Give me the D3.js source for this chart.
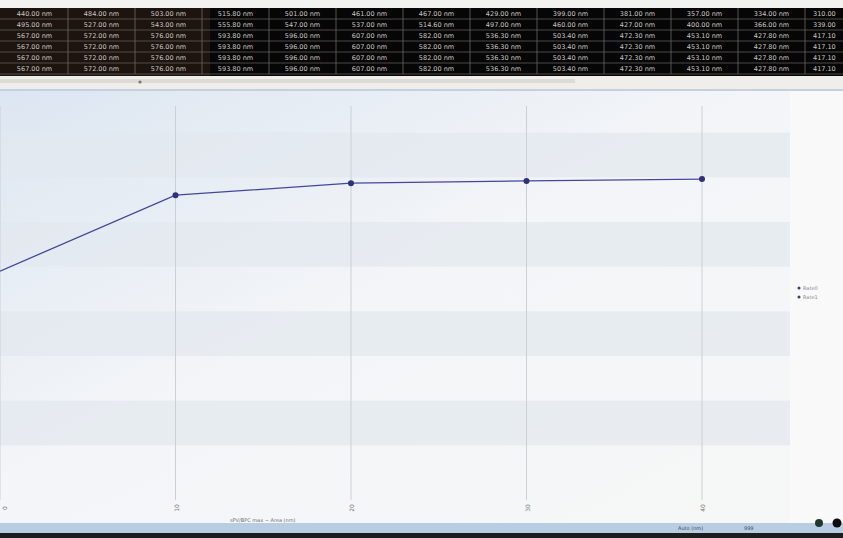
<!DOCTYPE html>
<html>
<head>
<meta charset="utf-8">
<script src="https://cdn.jsdelivr.net/npm/d3@7"></script>
<style>
  body { margin: 0; background: #222; }
  svg { display: block; font-family: "DejaVu Sans", sans-serif; -webkit-font-smoothing: antialiased; }
</style>
</head>
<body>
<script>
// Table rows at the top of the screen (nm readings)
const tableRow1 = ["440.00", "484.00", "503.00", "515.80", "501.00", "461.00", "467.00", "429.00", "399.00", "381.00", "357.00", "334.00", "310.00"];
const tableRow2 = ["495.00", "527.00", "543.00", "555.80", "547.00", "537.00", "514.60", "497.00", "460.00", "427.00", "400.00", "366.00", "339.00"];
const tableRow3 = ["567.00", "572.00", "576.00", "593.80", "596.00", "607.00", "582.00", "536.30", "503.40", "472.30", "453.10", "427.80", "417.10"];
const tableRow4 = ["567.00", "572.00", "576.00", "593.80", "596.00", "607.00", "582.00", "536.30", "503.40", "472.30", "453.10", "427.80", "417.10"];
const tableRow5 = ["567.00", "572.00", "576.00", "593.80", "596.00", "607.00", "582.00", "536.30", "503.40", "472.30", "453.10", "427.80", "417.10"];
const tableRow6 = ["567.00", "572.00", "576.00", "593.80", "596.00", "607.00", "582.00", "536.30", "503.40", "472.30", "453.10", "427.80", "417.10"];

// Chart series
const xSteps = [0, 1, 2, 3, 4];
const yValues = [490, 660, 687, 692, 696];
const xTickLabels = ["0", "10", "20", "30", "40"];
const legendLabels = ["Rate0", "Rate1"];
const axisTitle = "sPV/BPC max  ~ Area (nm)";

const W = 843, H = 538;
const svg = d3.select("body").append("svg")
    .attr("width", W)
    .attr("height", H);

const defs = svg.append("defs");
const grad = defs.append("linearGradient")
    .attr("id", "bg").attr("x1", 0).attr("y1", 0).attr("x2", 1).attr("y2", 1);
grad.append("stop").attr("offset", "0%").attr("stop-color", "#dce6f1");
grad.append("stop").attr("offset", "45%").attr("stop-color", "#f3f5f8");
grad.append("stop").attr("offset", "100%").attr("stop-color", "#f6f7f6");

// ---- top data table ----
const rows = [tableRow1, tableRow2, tableRow3, tableRow4, tableRow5, tableRow6];
const tableTop = 8, rowH = 11, colW = 67, colStart = 1;

svg.append("rect").attr("x", 0).attr("y", 0).attr("width", W).attr("height", tableTop)
    .attr("fill", "#f2f2f0");
svg.append("rect").attr("x", 0).attr("y", tableTop).attr("width", W).attr("height", rowH * rows.length + 2)
    .attr("fill", "#070606");
svg.append("rect").attr("x", 0).attr("y", tableTop).attr("width", 210).attr("height", rowH * rows.length + 2)
    .attr("fill", "#241812").attr("opacity", 0.8);

const table = svg.append("g");
rows.forEach((row, r) => {
    table.append("line")
        .attr("x1", 0).attr("x2", W)
        .attr("y1", tableTop + (r + 1) * rowH).attr("y2", tableTop + (r + 1) * rowH)
        .attr("stroke", "#5c5a58").attr("stroke-width", 0.8);
    row.forEach((v, c) => {
        // the last column runs off the screen edge, so only its number fits
        const last = c === row.length - 1;
        table.append("text")
            .attr("x", last ? colStart + c * colW + 8 : colStart + c * colW + colW / 2)
            .attr("y", tableTop + r * rowH + 8)
            .attr("text-anchor", last ? "start" : "middle")
            .attr("font-size", 6.5)
            .attr("fill", "#c9c7c4")
            .text(last ? v : v + " nm");
    });
});
d3.range(1, 13).forEach((c) => {
    table.append("line")
        .attr("x1", colStart + c * colW).attr("x2", colStart + c * colW)
        .attr("y1", tableTop).attr("y2", tableTop + rowH * rows.length)
        .attr("stroke", "#6a6866").attr("stroke-width", 0.8);
});

// strip under the table with scrollbar
svg.append("rect").attr("x", 0).attr("y", 76).attr("width", W).attr("height", 14).attr("fill", "#efeeea");
svg.append("rect").attr("x", 0).attr("y", 79).attr("width", 575).attr("height", 4).attr("fill", "#dcdbd6");
svg.append("circle").attr("cx", 140).attr("cy", 82).attr("r", 1.6).attr("fill", "#77777a");

// ---- chart ----
const plot = { left: 0, right: 790, top: 90, bottom: 492 };

svg.append("rect").attr("x", 0).attr("y", plot.top).attr("width", W).attr("height", 434)
    .attr("fill", "url(#bg)");
svg.append("rect").attr("x", plot.right).attr("y", plot.top).attr("width", W - plot.right).attr("height", 434)
    .attr("fill", "#f8f9f8");
svg.append("line").attr("x1", 0).attr("x2", W).attr("y1", plot.top).attr("y2", plot.top)
    .attr("stroke", "#c4d0dc").attr("stroke-width", 2);

const x = d3.scaleLinear().domain([0, 4]).range([0, 702]);
const y = d3.scaleLinear().domain([0, 900]).range([490, 88]);

// alternating horizontal bands
const bandTicks = d3.range(0, 900, 100);
svg.append("g").selectAll("rect")
    .data(bandTicks.filter((d, i) => i % 2 === 1))
    .join("rect")
    .attr("x", plot.left)
    .attr("width", plot.right - plot.left)
    .attr("y", (d) => y(d + 100))
    .attr("height", (d) => y(d) - y(d + 100))
    .attr("fill", "#e3e8ef")
    .attr("opacity", 0.75);

// vertical grid lines
svg.append("g").selectAll("line")
    .data(xSteps)
    .join("line")
    .attr("x1", (d) => x(d)).attr("x2", (d) => x(d))
    .attr("y1", plot.top + 16).attr("y2", plot.bottom + 8)
    .attr("stroke", "#ccd0d6").attr("stroke-width", 1);

// x tick labels (rotated)
svg.append("g").selectAll("text")
    .data(xSteps)
    .join("text")
    .attr("transform", (d) => `translate(${Math.max(x(d) + 3, 7)},${508}) rotate(-90)`)
    .attr("text-anchor", "middle")
    .attr("font-size", 6)
    .attr("fill", "#777")
    .text((d, i) => xTickLabels[i]);

svg.append("text")
    .attr("x", 230).attr("y", 522)
    .attr("font-size", 5)
    .attr("fill", "#6f6f78")
    .text(axisTitle);

// series line
const line = d3.line()
    .x((d, i) => x(xSteps[i]))
    .y((d) => y(d));

svg.append("path")
    .datum(yValues)
    .attr("d", line)
    .attr("fill", "none")
    .attr("stroke", "#45479a")
    .attr("stroke-width", 1.3);

svg.append("g").selectAll("circle")
    .data(yValues.slice(1))
    .join("circle")
    .attr("cx", (d, i) => x(xSteps[i + 1]))
    .attr("cy", (d) => y(d))
    .attr("r", 3)
    .attr("fill", "#2e3078");

// legend
const legend = svg.append("g").attr("transform", "translate(799,288)");
legendLabels.forEach((label, i) => {
    legend.append("circle").attr("cx", 0).attr("cy", i * 9).attr("r", 1.5).attr("fill", "#3a3c6a");
    legend.append("text").attr("x", 4).attr("y", i * 9 + 2)
        .attr("font-size", 5).attr("fill", "#8a8a95").text(label);
});

// status bar at the bottom
svg.append("rect").attr("x", 0).attr("y", 523).attr("width", W).attr("height", 10).attr("fill", "#b9cde2");
svg.append("rect").attr("x", 0).attr("y", 533).attr("width", W).attr("height", 5).attr("fill", "#1d1d1d");
svg.append("text").attr("x", 678).attr("y", 530).attr("font-size", 5).attr("fill", "#3c4c60").text("Auto (nm)");
svg.append("text").attr("x", 744).attr("y", 530).attr("font-size", 5).attr("fill", "#3c4c60").text("999");
svg.append("circle").attr("cx", 819).attr("cy", 523).attr("r", 4).attr("fill", "#1f3a2a");
svg.append("circle").attr("cx", 837).attr("cy", 523).attr("r", 4.5).attr("fill", "#0c0c0c");
</script>
</body>
</html>
